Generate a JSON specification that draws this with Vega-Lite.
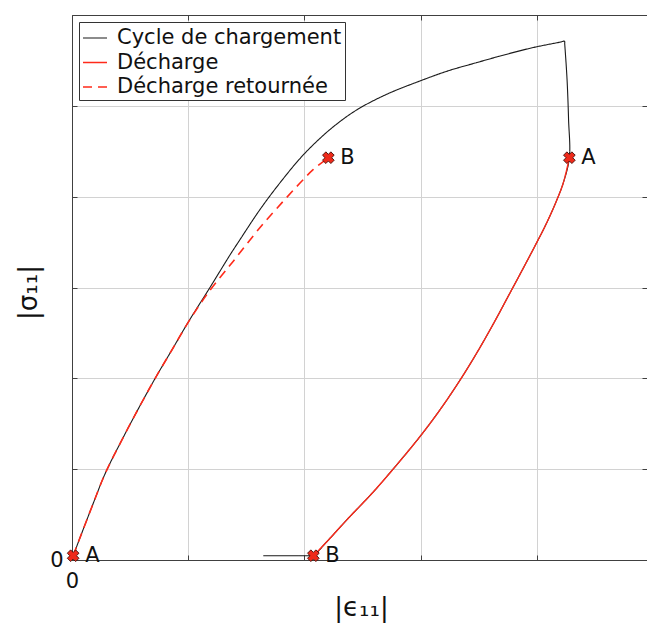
{
  "$schema": "https://vega.github.io/schema/vega-lite/v6.json",
  "width": 575,
  "height": 545,
  "autosize": {"type": "none"},
  "padding": {"left": 72, "top": 15, "right": 0, "bottom": 68},
  "background": "white",
  "config": {"view": {"stroke": null}, "font": "DejaVu Sans"},
  "datasets": {
    "charge": [
      {"i": 0, "eps": 0.01, "sig": 0.047, "serie": "Cycle de chargement"},
      {"i": 1, "eps": 0.172, "sig": 0.588, "serie": "Cycle de chargement"},
      {"i": 2, "eps": 0.287, "sig": 0.956, "serie": "Cycle de chargement"},
      {"i": 3, "eps": 0.43, "sig": 1.323, "serie": "Cycle de chargement"},
      {"i": 4, "eps": 0.574, "sig": 1.672, "serie": "Cycle de chargement"},
      {"i": 5, "eps": 0.717, "sig": 2.003, "serie": "Cycle de chargement"},
      {"i": 6, "eps": 0.861, "sig": 2.315, "serie": "Cycle de chargement"},
      {"i": 7, "eps": 1.004, "sig": 2.627, "serie": "Cycle de chargement"},
      {"i": 8, "eps": 1.176, "sig": 2.977, "serie": "Cycle de chargement"},
      {"i": 9, "eps": 1.362, "sig": 3.363, "serie": "Cycle de chargement"},
      {"i": 10, "eps": 1.446, "sig": 3.528, "serie": "Cycle de chargement"},
      {"i": 11, "eps": 1.618, "sig": 3.859, "serie": "Cycle de chargement"},
      {"i": 12, "eps": 1.79, "sig": 4.153, "serie": "Cycle de chargement"},
      {"i": 13, "eps": 1.962, "sig": 4.42, "serie": "Cycle de chargement"},
      {"i": 14, "eps": 2.091, "sig": 4.59, "serie": "Cycle de chargement"},
      {"i": 15, "eps": 2.249, "sig": 4.77, "serie": "Cycle de chargement"},
      {"i": 16, "eps": 2.45, "sig": 4.955, "serie": "Cycle de chargement"},
      {"i": 17, "eps": 2.708, "sig": 5.127, "serie": "Cycle de chargement"},
      {"i": 18, "eps": 2.995, "sig": 5.274, "serie": "Cycle de chargement"},
      {"i": 19, "eps": 3.236, "sig": 5.385, "serie": "Cycle de chargement"},
      {"i": 20, "eps": 3.483, "sig": 5.476, "serie": "Cycle de chargement"},
      {"i": 21, "eps": 3.726, "sig": 5.563, "serie": "Cycle de chargement"},
      {"i": 22, "eps": 3.97, "sig": 5.642, "serie": "Cycle de chargement"},
      {"i": 23, "eps": 4.2, "sig": 5.701, "serie": "Cycle de chargement"},
      {"i": 24, "eps": 4.238, "sig": 5.711, "serie": "Cycle de chargement"},
      {"i": 25, "eps": 4.24, "sig": 5.68, "serie": "Cycle de chargement"},
      {"i": 26, "eps": 4.26, "sig": 5.29, "serie": "Cycle de chargement"},
      {"i": 27, "eps": 4.273, "sig": 4.851, "serie": "Cycle de chargement"},
      {"i": 28, "eps": 4.28, "sig": 4.429, "serie": "Cycle de chargement"},
      {"i": 29, "eps": 4.228, "sig": 4.153, "serie": "Cycle de chargement"},
      {"i": 30, "eps": 4.171, "sig": 3.96, "serie": "Cycle de chargement"},
      {"i": 31, "eps": 4.085, "sig": 3.712, "serie": "Cycle de chargement"},
      {"i": 32, "eps": 3.985, "sig": 3.46, "serie": "Cycle de chargement"},
      {"i": 33, "eps": 3.855, "sig": 3.145, "serie": "Cycle de chargement"},
      {"i": 34, "eps": 3.769, "sig": 2.94, "serie": "Cycle de chargement"},
      {"i": 35, "eps": 3.626, "sig": 2.6, "serie": "Cycle de chargement"},
      {"i": 36, "eps": 3.483, "sig": 2.279, "serie": "Cycle de chargement"},
      {"i": 37, "eps": 3.339, "sig": 1.98, "serie": "Cycle de chargement"},
      {"i": 38, "eps": 3.167, "sig": 1.654, "serie": "Cycle de chargement"},
      {"i": 39, "eps": 2.995, "sig": 1.36, "serie": "Cycle de chargement"},
      {"i": 40, "eps": 2.794, "sig": 1.047, "serie": "Cycle de chargement"},
      {"i": 41, "eps": 2.593, "sig": 0.75, "serie": "Cycle de chargement"},
      {"i": 42, "eps": 2.364, "sig": 0.441, "serie": "Cycle de chargement"},
      {"i": 43, "eps": 2.192, "sig": 0.2, "serie": "Cycle de chargement"},
      {"i": 44, "eps": 2.077, "sig": 0.047, "serie": "Cycle de chargement"},
      {"i": 45, "eps": 2.06, "sig": 0.047, "serie": "Cycle de chargement"},
      {"i": 46, "eps": 1.646, "sig": 0.047, "serie": "Cycle de chargement"}
    ],
    "decharge": [
      {"i": 0, "eps": 4.28, "sig": 4.429, "serie": "Décharge"},
      {"i": 1, "eps": 4.228, "sig": 4.153, "serie": "Décharge"},
      {"i": 2, "eps": 4.171, "sig": 3.96, "serie": "Décharge"},
      {"i": 3, "eps": 4.085, "sig": 3.712, "serie": "Décharge"},
      {"i": 4, "eps": 3.985, "sig": 3.46, "serie": "Décharge"},
      {"i": 5, "eps": 3.855, "sig": 3.145, "serie": "Décharge"},
      {"i": 6, "eps": 3.769, "sig": 2.94, "serie": "Décharge"},
      {"i": 7, "eps": 3.626, "sig": 2.6, "serie": "Décharge"},
      {"i": 8, "eps": 3.483, "sig": 2.279, "serie": "Décharge"},
      {"i": 9, "eps": 3.339, "sig": 1.98, "serie": "Décharge"},
      {"i": 10, "eps": 3.167, "sig": 1.654, "serie": "Décharge"},
      {"i": 11, "eps": 2.995, "sig": 1.36, "serie": "Décharge"},
      {"i": 12, "eps": 2.794, "sig": 1.047, "serie": "Décharge"},
      {"i": 13, "eps": 2.593, "sig": 0.75, "serie": "Décharge"},
      {"i": 14, "eps": 2.364, "sig": 0.441, "serie": "Décharge"},
      {"i": 15, "eps": 2.192, "sig": 0.2, "serie": "Décharge"},
      {"i": 16, "eps": 2.077, "sig": 0.047, "serie": "Décharge"}
    ],
    "retournee": [
      {"i": 0, "eps": 0.01, "sig": 0.047, "serie": "Décharge retournée"},
      {"i": 1, "eps": 0.172, "sig": 0.588, "serie": "Décharge retournée"},
      {"i": 2, "eps": 0.287, "sig": 0.956, "serie": "Décharge retournée"},
      {"i": 3, "eps": 0.43, "sig": 1.323, "serie": "Décharge retournée"},
      {"i": 4, "eps": 0.574, "sig": 1.672, "serie": "Décharge retournée"},
      {"i": 5, "eps": 0.717, "sig": 2.003, "serie": "Décharge retournée"},
      {"i": 6, "eps": 0.861, "sig": 2.315, "serie": "Décharge retournée"},
      {"i": 7, "eps": 1.004, "sig": 2.625, "serie": "Décharge retournée"},
      {"i": 8, "eps": 1.176, "sig": 2.95, "serie": "Décharge retournée"},
      {"i": 9, "eps": 1.325, "sig": 3.19, "serie": "Décharge retournée"},
      {"i": 10, "eps": 1.388, "sig": 3.29, "serie": "Décharge retournée"},
      {"i": 11, "eps": 1.618, "sig": 3.66, "serie": "Décharge retournée"},
      {"i": 12, "eps": 1.818, "sig": 3.95, "serie": "Décharge retournée"},
      {"i": 13, "eps": 1.962, "sig": 4.15, "serie": "Décharge retournée"},
      {"i": 14, "eps": 2.077, "sig": 4.3, "serie": "Décharge retournée"},
      {"i": 15, "eps": 2.206, "sig": 4.429, "serie": "Décharge retournée"}
    ],
    "points": [
      {"eps": 0.01, "sig": 0.047, "lab": "A"},
      {"eps": 4.28, "sig": 4.429, "lab": "A"},
      {"eps": 2.206, "sig": 4.429, "lab": "B"},
      {"eps": 2.077, "sig": 0.047, "lab": "B"}
    ]
  },
  "layer": [
    {
      "data": {"name": "charge"},
      "mark": {"type": "line", "clip": true, "interpolate": "catmull-rom"},
      "encoding": {
        "x": {
          "field": "eps", "type": "quantitative",
          "scale": {"domain": [0, 4.948], "nice": false, "zero": false},
          "axis": {
            "orient": "bottom", "values": [0, 1, 2, 3, 4],
            "labelExpr": "datum.value == 0 ? '0' : ''",
            "labelFlush": false,
            "grid": true, "gridColor": "#d2d2d2", "gridWidth": 1,
            "domainColor": "#404040", "domainWidth": 1,
            "tickColor": "#404040", "tickSize": -5, "tickWidth": 1,
            "labelPadding": 15, "labelFontSize": 21, "labelFont": "DejaVu Sans", "labelColor": "#111",
            "title": "|ϵ₁₁|", "titleFont": "DejaVu Sans", "titleFontSize": 26, "titleFontWeight": "normal", "titleColor": "#111",
            "titleX": 289, "titleY": 47, "titleAlign": "center", "titleBaseline": "middle"
          }
        },
        "y": {
          "field": "sig", "type": "quantitative",
          "scale": {"domain": [0, 6], "nice": false, "zero": false},
          "axis": {
            "orient": "left", "values": [0, 1, 2, 3, 4, 5, 6],
            "labelExpr": "datum.value == 0 ? '0' : ''",
            "labelFlush": false,
            "grid": true, "gridColor": "#d2d2d2", "gridWidth": 1,
            "domainColor": "#404040", "domainWidth": 1,
            "tickColor": "#404040", "tickSize": -5, "tickWidth": 1,
            "labelPadding": 14, "labelFontSize": 21, "labelFont": "DejaVu Sans", "labelColor": "#111",
            "title": "|σ₁₁|", "titleFont": "DejaVu Sans", "titleFontSize": 26, "titleFontWeight": "normal", "titleColor": "#111",
            "titleX": -44, "titleY": 277, "titleAngle": 270, "titleAlign": "center", "titleBaseline": "middle"
          }
        },
        "order": {"field": "i", "type": "quantitative"},
        "color": {
          "field": "serie", "type": "nominal",
          "scale": {"domain": ["Cycle de chargement", "Décharge", "Décharge retournée"], "range": ["#1a1a1a", "#ff2a1a", "#ff2a1a"]},
          "legend": {
            "title": null, "orient": "none", "legendX": 7, "legendY": 7,
            "symbolType": "stroke", "symbolSize": 576, "symbolStrokeWidth": 1.5,
            "labelFont": "DejaVu Sans", "labelFontSize": 21, "labelColor": "#111", "labelOffset": 9, "labelLimit": 0,
            "rowPadding": 1.5, "padding": 3,
            "strokeColor": "#333", "fillColor": "white", "cornerRadius": 0
          }
        },
        "strokeDash": {
          "field": "serie", "type": "nominal",
          "scale": {"domain": ["Cycle de chargement", "Décharge", "Décharge retournée"], "range": [[1, 0], [1, 0], [9, 6]]}
        },
        "strokeWidth": {
          "field": "serie", "type": "nominal",
          "scale": {"domain": ["Cycle de chargement", "Décharge", "Décharge retournée"], "range": [1.1, 1.6, 2.6]}
        }
      }
    },
    {
      "data": {"name": "decharge"},
      "mark": {"type": "line", "clip": true, "interpolate": "catmull-rom"},
      "encoding": {
        "x": {"field": "eps", "type": "quantitative", "axis": null},
        "y": {"field": "sig", "type": "quantitative", "axis": null},
        "order": {"field": "i", "type": "quantitative"},
        "color": {"field": "serie", "type": "nominal"},
        "strokeDash": {"field": "serie", "type": "nominal"},
        "strokeWidth": {"field": "serie", "type": "nominal"}
      }
    },
    {
      "data": {"name": "retournee"},
      "mark": {"type": "line", "clip": true, "interpolate": "catmull-rom"},
      "encoding": {
        "x": {"field": "eps", "type": "quantitative", "axis": null},
        "y": {"field": "sig", "type": "quantitative", "axis": null},
        "order": {"field": "i", "type": "quantitative"},
        "color": {"field": "serie", "type": "nominal"},
        "strokeDash": {"field": "serie", "type": "nominal"},
        "strokeWidth": {"field": "serie", "type": "nominal"}
      }
    },
    {
      "data": {"name": "points"},
      "mark": {"type": "point", "shape": "cross", "angle": 45, "filled": true, "fill": "#ee2a1a", "stroke": "#3a0a05", "strokeWidth": 0.8, "size": 140, "opacity": 1},
      "encoding": {
        "x": {
          "field": "eps", "type": "quantitative",
          "axis": {"orient": "top", "values": [0, 1, 2, 3, 4], "labels": false, "grid": false, "domain": true, "domainColor": "#404040", "tickColor": "#404040", "tickSize": -5, "title": null}
        },
        "y": {
          "field": "sig", "type": "quantitative",
          "axis": {"orient": "right", "values": [0, 1, 2, 3, 4, 5, 6], "labels": false, "grid": false, "domain": false, "tickColor": "#404040", "tickSize": -5, "title": null}
        }
      }
    },
    {
      "data": {"name": "points"},
      "mark": {"type": "text", "align": "left", "baseline": "middle", "dx": 12, "font": "DejaVu Sans", "fontSize": 21, "color": "#111"},
      "encoding": {
        "x": {"field": "eps", "type": "quantitative", "axis": null},
        "y": {"field": "sig", "type": "quantitative", "axis": null},
        "text": {"field": "lab"}
      }
    }
  ],
  "resolve": {"axis": {"x": "independent", "y": "independent"}}
}
